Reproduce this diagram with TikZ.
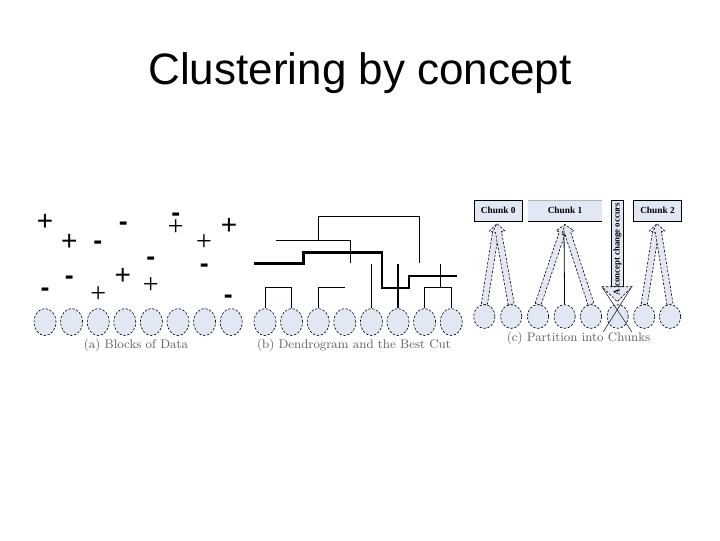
\documentclass[tikz,border=0pt]{standalone}
\usepackage{fontspec}
\usetikzlibrary{shapes.geometric,calc}
\newfontfamily\arialf{Liberation Sans}
\newfontfamily\tmsf{Liberation Serif}
\definecolor{blobfill}{RGB}{226,232,243}
\definecolor{labgray}{RGB}{95,95,95}
\newcommand\hollowarrow[2]{%
  \coordinate (hb) at ($(#2)!6.5pt!(#1)$);
  \draw[harrow] ($(#1)!2.3pt!90:(#2)$) -- ($(hb)!2.3pt!90:(#2)$) -- ($(hb)!4.8pt!90:(#2)$) -- (#2)
     -- ($(hb)!4.8pt!-90:(#2)$) -- ($(hb)!2.3pt!-90:(#2)$) -- ($(#1)!2.3pt!-90:(#2)$) -- cycle;}
\begin{document}
\begin{tikzpicture}[x=0.75pt,y=-0.75pt,
  blob/.style={ellipse, draw, dash pattern=on 1.8pt off 1.2pt, line width=0.45pt, fill=blobfill,
     minimum width=16.5pt, minimum height=20.25pt, inner sep=0pt},
  blobc/.style={blob, minimum width=16pt, minimum height=17.8pt},
  dthin/.style={line width=0.6pt},
  dmed/.style={line width=1.1pt},
  dcut/.style={line width=1.8pt},
  pbold/.style={font=\arialf\fontsize{21}{21}\selectfont, inner sep=0pt, anchor=base},
  pthin/.style={font=\tmsf\fontsize{21}{21}\selectfont, inner sep=0pt, anchor=base},
  mbold/.style={font=\arialf\bfseries\fontsize{20}{20}\selectfont, inner sep=0pt, anchor=base},
  lab/.style={font=\fontsize{9.4}{10}\selectfont, text=labgray, inner sep=0pt},
  chunk/.style={draw, line width=0.6pt, fill=blobfill, minimum height=15.5pt, inner sep=0pt,
     font=\tmsf\bfseries\fontsize{7}{8}\selectfont},
  harrow/.style={draw, fill=blobfill, dash pattern=on 1.8pt off 1.2pt, line width=0.45pt},
]
\useasboundingbox (0,0) rectangle (720,540);
% title
\node[font=\arialf\fontsize{33}{36}\selectfont, anchor=base, inner sep=0pt] (title) at (360,84) {Clustering by concept};

% ---------- panel (a)
\foreach \i/\x in {1/45,2/71.6,3/98.2,4/124.8,5/151.4,6/178,7/204.6,8/231.2}
  \node[blob] (a\i) at (\x,322) {};
\node[lab] (la) at (136,345) {(a) Blocks of Data};
\foreach \n/\x/\y in {p1/45/220.7, p2/69.3/240.7, p3/229/224.3, p4/122.7/275}
  \node[pbold] (\n) at (\x,\y+9.8) {+};
\foreach \n/\x/\y in {q1/175.7/228.8, q2/204/243.3, q3/150.7/286.7, q4/98.3/295}
  \node[pthin] (\n) at (\x,\y+7) {+};
\foreach \n/\x/\y in {m1/97.7/242.3, m2/123.3/223.3, m3/175.7/213.8, m4/150.7/258.3, m5/204.3/265.5, m6/69.3/277.3, m7/45/289, m8/228.3/296.7}
  \node[mbold] (\n) at (\x,\y+7.2) {-};

% ---------- panel (b)
\foreach \i/\x in {1/265,2/291.6,3/318.2,4/344.8,5/371.4,6/398,7/424.6,8/451.2}
  \node[blob] (b\i) at (\x,322) {};
\node[lab] (lb) at (354,345) {(b) Dendrogram and the Best Cut};
\coordinate (lv1) at (0,287.7);
\coordinate (lv2) at (0,264.3);
\coordinate (e3) at (345,287.7);
\draw[dthin] (b1.north) -- (b1.north |- lv1) -| (b2.north);
\draw[dthin] (b3.north) -- (b3.north |- lv1) -- (e3);
\draw[dthin] (b7.north) -- (b7.north |- lv1) -| (b8.north);
\coordinate (j78) at (440.7,287.7);
\coordinate (j78t) at (440.7,264.3);
\draw[dthin] (j78) -- (j78t);
\draw[dthin] (b5.north) -- (b5.north |- lv2);
\draw[dmed] (b6.north) -- (b6.north |- lv2);
\coordinate (h1) at (276,240.3);
\coordinate (h2) at (350,240.3);
\coordinate (h2b) at (350,263.3);
\draw[dthin] (h1) -- (h2) -- (h2b);
\coordinate (t1) at (318.3,240.3);
\coordinate (t2) at (318.3,216.7);
\coordinate (t3) at (419.3,216.7);
\coordinate (t4) at (419.3,263.3);
\draw[dmed] (t1) -- (t2) -- (t3) -- (t4);
\coordinate (c1) at (254,263.3);
\coordinate (c2) at (303.3,263.3);
\coordinate (c3) at (303.3,252.3);
\coordinate (c4) at (381.7,252.3);
\coordinate (c5) at (381.7,287.7);
\coordinate (c6) at (409,287.7);
\coordinate (c7) at (409,275.7);
\coordinate (c8) at (456.7,275.7);
\draw[dcut] (c1) -- (c2) -- (c3) -- (c4) -- (c5) -- (c6) -- (c7) -- (c8);

% ---------- panel (c)
\foreach \i/\x in {1/484.3,2/511.2,3/538,4/564.6,5/591,6/617.6,7/644.2,8/670}
  \node[blobc] (k\i) at (\x,316.5) {};
\node[lab] (lc) at (578.5,338.5) {(c) Partition into Chunks};
\node[chunk, minimum width=36.2pt] (ch0) at (498.2,210.8) {Chunk 0};
\node[chunk, draw=none, minimum width=55pt] (ch1) at (565,210.8) {Chunk 1};
\draw[line width=0.6pt] (ch1.south west) -- (ch1.south east);
\draw[line width=0.4pt, gray!60] (ch1.north west) -- (ch1.north east);
\node[chunk, minimum width=36.3pt] (ch2) at (657.5,210.8) {Chunk 2};
\coordinate (tp0) at (497,223.5);
\coordinate (tp1) at (565,224.5);
\coordinate (tp2) at (657,223.5);
\hollowarrow{k1.north}{tp0}
\hollowarrow{k2.north}{tp0}
\hollowarrow{k3.north}{tp1}
\hollowarrow{k5.north}{tp1}
\draw[line width=0.6pt] (k4.north) -- ($(tp1)+(-1,6)$);
\hollowarrow{k7.north}{tp2}
\hollowarrow{k8.north}{tp2}
% concept change arrow
\coordinate (v1) at (611.8,200);
\coordinate (v2) at (623.2,286.7);
\draw[fill=blobfill, line width=0.6pt] (v1) rectangle (v2);
\coordinate (g1) at (602,286.7);
\coordinate (g2) at (632,286.7);
\coordinate (g3) at (617.2,301.7);
\draw[fill=blobfill, dash pattern=on 1.8pt off 1.2pt, line width=0.45pt] (g1) -- (g2) -- (g3) -- cycle;
\node[rotate=90, inner sep=0pt, font=\tmsf\bfseries\fontsize{6.6}{7}\selectfont] (cc) at (617.5,249) {A concept change occurs};
\coordinate (x1) at (601.7,286.7);
\coordinate (x2) at (631.7,331.7);
\coordinate (x3) at (631.7,286.7);
\coordinate (x4) at (603.3,331.7);
\draw[line width=0.5pt, black!80] (x1) -- (x2);
\draw[line width=0.5pt, black!80] (x3) -- (x4);
\end{tikzpicture}
\end{document}
